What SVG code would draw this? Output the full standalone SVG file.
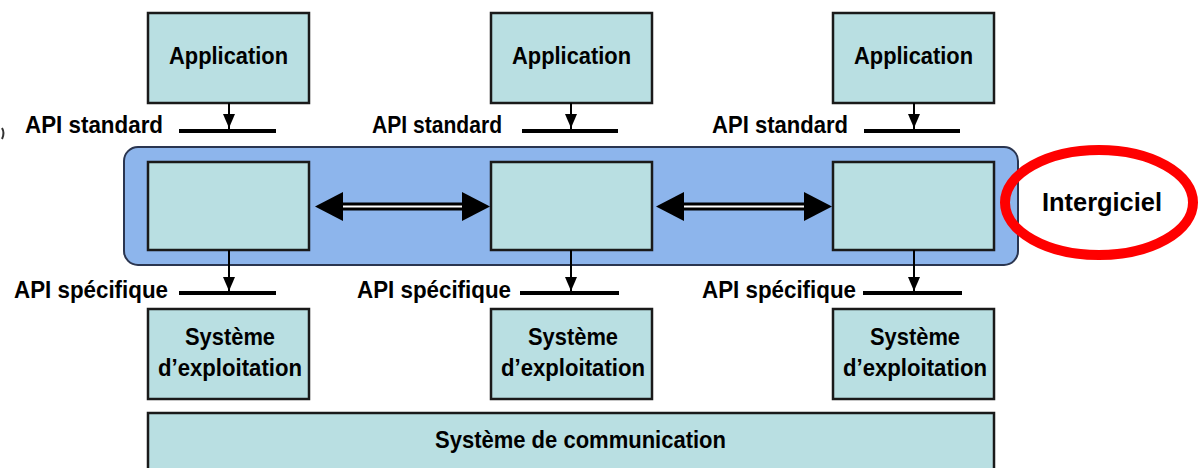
<svg xmlns="http://www.w3.org/2000/svg" width="1198" height="468" viewBox="0 0 1198 468">
<style>
.box{fill:#b9dfe2;stroke:#1a1a1a;stroke-width:2.5}
.lbl{font-family:"Liberation Sans",Arial,sans-serif;font-weight:bold;font-size:24px;fill:#000}
.api{stroke:#000;stroke-width:4}
.stem{stroke:#000;stroke-width:2}
.head{fill:#000}
</style>
<defs>
<g id="vhead"><path d="M-6,-14 L6,-14 L0,0 Z"/></g>
</defs>
<rect width="1198" height="468" fill="#fff"/>
<path d="M2,128 Q5,133 2,139" fill="none" stroke="#333" stroke-width="2"/>

<g id="middleware-band">
<rect x="124" y="147" width="894" height="118" rx="14" ry="14" fill="#8db5ec" stroke="#2a3550" stroke-width="2"/>
</g>

<g id="app1"><rect class="box" x="148" y="13" width="161" height="90"/><text class="lbl" x="169" y="64" textLength="119" lengthAdjust="spacingAndGlyphs">Application</text></g>
<g id="app2"><rect class="box" x="491" y="13" width="161" height="90"/><text class="lbl" x="512" y="64" textLength="119" lengthAdjust="spacingAndGlyphs">Application</text></g>
<g id="app3"><rect class="box" x="833" y="13" width="161" height="90"/><text class="lbl" x="854" y="64" textLength="119" lengthAdjust="spacingAndGlyphs">Application</text></g>

<g id="mw1"><rect class="box" x="148" y="162" width="161" height="88"/></g>
<g id="mw2"><rect class="box" x="491" y="162" width="161" height="88"/></g>
<g id="mw3"><rect class="box" x="833" y="162" width="161" height="88"/></g>

<g id="os1"><rect class="box" x="148" y="309" width="161" height="90"/><text class="lbl" x="185" y="345" textLength="90" lengthAdjust="spacingAndGlyphs">Système</text><text class="lbl" x="158" y="376" textLength="144" lengthAdjust="spacingAndGlyphs">d’exploitation</text></g>
<g id="os2"><rect class="box" x="491" y="309" width="161" height="90"/><text class="lbl" x="528" y="345" textLength="90" lengthAdjust="spacingAndGlyphs">Système</text><text class="lbl" x="501" y="376" textLength="144" lengthAdjust="spacingAndGlyphs">d’exploitation</text></g>
<g id="os3"><rect class="box" x="833" y="309" width="161" height="90"/><text class="lbl" x="870" y="345" textLength="90" lengthAdjust="spacingAndGlyphs">Système</text><text class="lbl" x="843" y="376" textLength="144" lengthAdjust="spacingAndGlyphs">d’exploitation</text></g>

<g id="comm"><rect class="box" x="148" y="413" width="846" height="70"/><text class="lbl" x="435" y="448" textLength="291" lengthAdjust="spacingAndGlyphs">Système de communication</text></g>

<g id="api-labels">
<text class="lbl" x="25" y="133" textLength="138" lengthAdjust="spacingAndGlyphs">API standard</text>
<text class="lbl" x="372" y="133" textLength="130" lengthAdjust="spacingAndGlyphs">API standard</text>
<text class="lbl" x="712" y="133" textLength="136" lengthAdjust="spacingAndGlyphs">API standard</text>
<text class="lbl" x="14" y="298" textLength="154" lengthAdjust="spacingAndGlyphs">API spécifique</text>
<text class="lbl" x="357" y="298" textLength="154" lengthAdjust="spacingAndGlyphs">API spécifique</text>
<text class="lbl" x="702" y="298" textLength="154" lengthAdjust="spacingAndGlyphs">API spécifique</text>
</g>

<g id="connectors">
<line class="api" x1="179" y1="131" x2="276" y2="131"/>
<line class="api" x1="522" y1="131" x2="618" y2="131"/>
<line class="api" x1="864" y1="131" x2="960" y2="131"/>
<line class="api" x1="179" y1="293" x2="276" y2="293"/>
<line class="api" x1="520" y1="293" x2="619" y2="293"/>
<line class="api" x1="863" y1="293" x2="962" y2="293"/>

<line class="stem" x1="229" y1="103" x2="229" y2="129"/>
<line class="stem" x1="571" y1="103" x2="571" y2="129"/>
<line class="stem" x1="914" y1="103" x2="914" y2="129"/>
<line class="stem" x1="229" y1="250" x2="229" y2="291"/>
<line class="stem" x1="571" y1="250" x2="571" y2="291"/>
<line class="stem" x1="914" y1="250" x2="914" y2="291"/>
<use href="#vhead" x="229" y="128" class="head"/>
<use href="#vhead" x="571" y="128" class="head"/>
<use href="#vhead" x="914" y="128" class="head"/>
<use href="#vhead" x="229" y="291" class="head"/>
<use href="#vhead" x="571" y="291" class="head"/>
<use href="#vhead" x="914" y="291" class="head"/>

<line x1="340" y1="206.5" x2="465" y2="206.5" stroke="#000" stroke-width="8"/>
<line x1="340" y1="206.5" x2="465" y2="206.5" stroke="#fff" stroke-width="2"/>
<path class="head" d="M315,206.5 L343,192 L343,221 Z"/>
<path class="head" d="M490,206.5 L462,192 L462,221 Z"/>

<line x1="682" y1="206.5" x2="807" y2="206.5" stroke="#000" stroke-width="8"/>
<line x1="682" y1="206.5" x2="807" y2="206.5" stroke="#fff" stroke-width="2"/>
<path class="head" d="M656,206.5 L684,192 L684,221 Z"/>
<path class="head" d="M832,206.5 L804,192 L804,221 Z"/>
</g>

<g id="intergiciel">
<ellipse cx="1099" cy="202.5" rx="94" ry="52.5" fill="none" stroke="#f00" stroke-width="10"/>
<text x="1042" y="211" font-family="'Liberation Sans',Arial,sans-serif" font-weight="bold" font-size="25" textLength="120" lengthAdjust="spacingAndGlyphs" fill="#000">Intergiciel</text>
</g>
</svg>
